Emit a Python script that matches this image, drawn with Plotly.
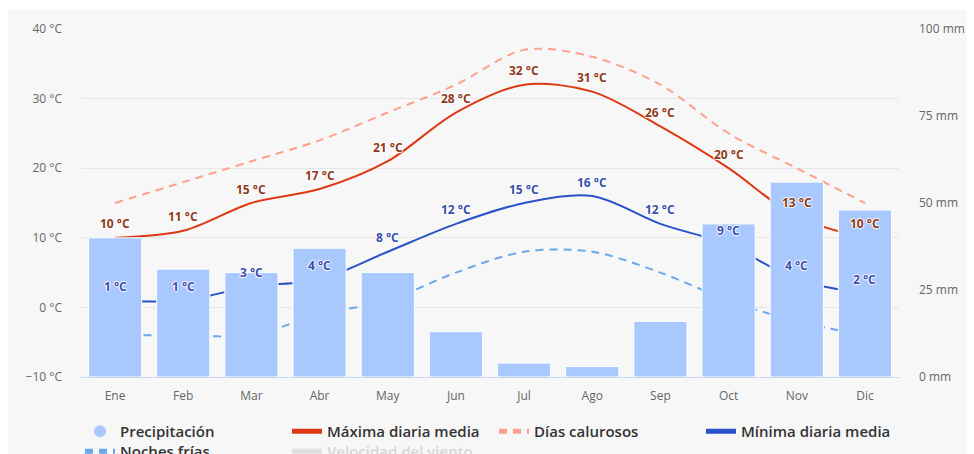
import plotly.graph_objects as go

months = ["Ene", "Feb", "Mar", "Abr", "May", "Jun", "Jul", "Ago", "Sep", "Oct", "Nov", "Dic"]
precip_mm = [40, 31, 30, 37, 30, 13, 4, 3, 16, 44, 56, 48]
max_temp = [10, 11, 15, 17, 21, 28, 32, 31, 26, 20, 13, 10]
hot_days = [15, 18, 21, 24, 28, 32, 37, 36, 32, 25, 20, 15]
min_temp = [1, 1, 3, 4, 8, 12, 15, 16, 12, 9, 4, 2]
cold_nights = [-4, -4, -4, -1, 1, 5, 8, 8, 5, 1, -2, -4]
wind_speed = [None]  # hidden series, no values shown in the chart
legend_only = [None]  # placeholder for the round legend symbol

temp_ticks = [-10, 0, 10, 20, 30, 40]
temp_labels = ["−10 °C", "0 °C", "10 °C", "20 °C", "30 °C", "40 °C"]
mm_ticks = [0, 25, 50, 75, 100]
mm_labels = ["0 mm", "25 mm", "50 mm", "75 mm", "100 mm"]

FONT = "Open Sans"
halo = "1px 0px 1px #fff, -1px 0px 1px #fff, 0px 1px 1px #fff, 0px -1px 1px #fff"

# page has an 8px body margin; figure is sized to fill the rest of the window
W, H = 966, 446
L, R, T, B = 73, 75, 21, 77
PW, PH = W - L - R, H - T - B

fig = go.Figure()

fig.add_trace(go.Bar(
    x=months, y=precip_mm, name="Precipitación", yaxis="y2",
    marker=dict(color="#a9c8fe", line=dict(color="#ffffff", width=1)),
    legendgroup="precip", showlegend=False, hoverinfo="skip",
))
fig.add_trace(go.Scatter(
    x=legend_only, y=legend_only, name="Precipitación", mode="markers",
    marker=dict(color="#a9c8fe", size=12, symbol="circle"),
    legendgroup="precip", showlegend=True, yaxis="y2", legend="legend",
))
fig.add_trace(go.Scatter(
    x=months, y=max_temp, name="Máxima diaria media", mode="lines",
    line=dict(color="#df3712", width=2, shape="spline", smoothing=0.9),
    legend="legend",
))
fig.add_trace(go.Scatter(
    x=months, y=hot_days, name="Días calurosos", mode="lines",
    line=dict(color="#ff9f8c", width=2, shape="spline", smoothing=0.9, dash="8px,6px"),
    legend="legend",
))
fig.add_trace(go.Scatter(
    x=months, y=min_temp, name="Mínima diaria media", mode="lines",
    line=dict(color="#2a52c9", width=2, shape="spline", smoothing=0.9),
    legend="legend",
))
fig.add_trace(go.Scatter(
    x=months, y=cold_nights, name="Noches frías", mode="lines",
    line=dict(color="#6aa8e8", width=2, shape="spline", smoothing=0.9, dash="8px,6px"),
    legend="legend2",
))
fig.add_trace(go.Scatter(
    x=wind_speed, y=wind_speed, name="<span style='color:#b8b8b8'>Velocidad del viento</span>",
    mode="lines", visible="legendonly",
    line=dict(color="#cccccc", width=2), legend="legend2",
))

annotations = []
for m, v in zip(months, max_temp):
    annotations.append(dict(
        x=m, y=v, xref="x", yref="y", text=f"{v} °C", showarrow=False,
        yshift=14, font=dict(family=FONT, size=12, color="#8e3a1a", weight="bold", shadow=halo),
    ))
for m, v in zip(months, min_temp):
    annotations.append(dict(
        x=m, y=v, xref="x", yref="y", text=f"{v} °C", showarrow=False,
        yshift=14, font=dict(family=FONT, size=12, color="#3a4fae", weight="bold", shadow=halo),
    ))

legend_common = dict(
    orientation="h", xanchor="left", yanchor="top",
    entrywidth=162, entrywidthmode="pixels",
    font=dict(family=FONT, size=15, color="#333333", weight=600),
    bgcolor="rgba(0,0,0,0)", tracegroupgap=0, itemsizing="constant",
)

fig.update_layout(
    width=W, height=H,
    margin=dict(l=L, r=R, t=T, b=B, pad=0, autoexpand=False),
    paper_bgcolor="#ffffff",
    plot_bgcolor="rgba(0,0,0,0)",
    font=dict(family=FONT, size=12, color="#666666"),
    bargap=0.22,
    showlegend=True,
    legend=dict(legend_common, x=-0.0012, y=(PH + T - 407) / PH),
    legend2=dict(legend_common, x=-0.0012, y=(PH + T - 427) / PH),
    xaxis=dict(
        showgrid=False, showline=True, linecolor="#ccd6eb", linewidth=1,
        ticks="", tickfont=dict(size=12, color="#666666"), ticklabelstandoff=8,
        fixedrange=True, range=[-0.5, 11.5],
    ),
    yaxis=dict(
        range=[-10, 40], tickmode="array", tickvals=temp_ticks, ticktext=temp_labels,
        showgrid=True, gridcolor="#e6e6e6", gridwidth=1, zeroline=False,
        tickfont=dict(size=12, color="#666666"), ticklabelstandoff=18,
        showline=False,
    ),
    yaxis2=dict(
        range=[0, 100], tickmode="array", tickvals=mm_ticks, ticktext=mm_labels,
        overlaying="y", side="right", showgrid=False, zeroline=False,
        tickfont=dict(size=12, color="#666666"), ticklabelstandoff=19,
    ),
    annotations=annotations,
    shapes=[dict(
        type="rect", xref="paper", yref="paper",
        x0=(0 - L) / PW, x1=(W + 10 - L) / PW,
        y0=(PH + T - (H + 10)) / PH, y1=(PH + T - 2) / PH,
        fillcolor="#f7f7f7", line=dict(width=0), layer="below",
    )],
)

fig.write_html("out.html")
